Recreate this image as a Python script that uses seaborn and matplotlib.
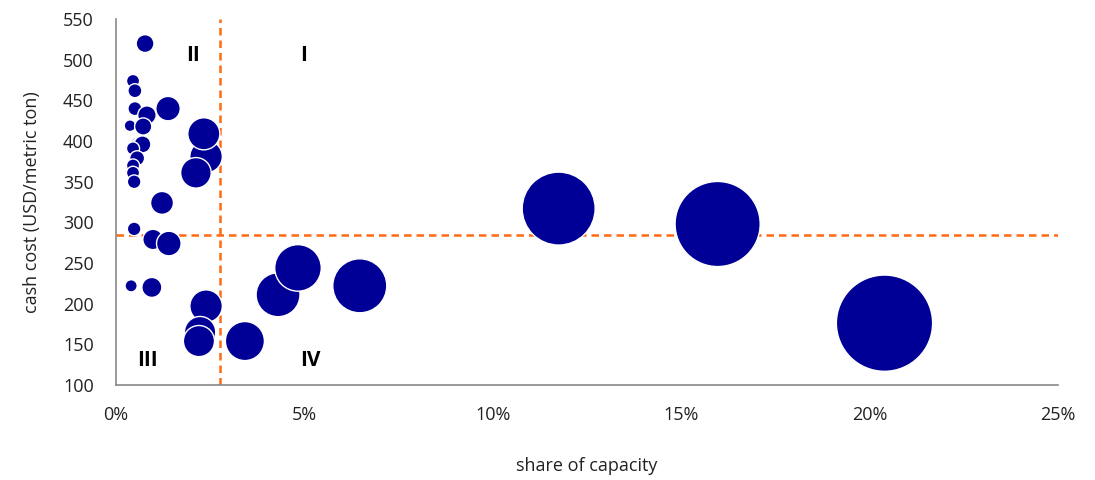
import matplotlib
matplotlib.use("Agg")
import matplotlib.pyplot as plt
import matplotlib.ticker as mticker
import seaborn as sns
import pandas as pd

# share of capacity (%), cash cost (USD/t), bubble size (capacity share)
share = [2.39, 0.77, 0.45, 0.50, 1.38, 0.50, 0.82, 0.37, 0.72, 2.33, 2.12,
         0.60, 0.64, 0.70, 0.45, 0.56, 0.45, 0.45, 0.48, 1.22, 0.48, 0.98,
         1.40, 0.95, 0.40, 2.39, 2.23, 2.20, 3.42, 4.30, 4.83, 6.47, 11.75,
         15.97, 20.40]
cost = [381, 520, 474, 462, 440, 440, 432, 419, 418, 409, 361,
        396, 395, 396, 391, 379, 370, 361, 350, 324, 292, 279,
        274, 220, 222, 197, 165, 154, 154, 211, 244, 222, 317,
        298, 176]
size = [2.39, 0.77, 0.45, 0.50, 1.38, 0.50, 0.82, 0.37, 0.72, 2.33, 2.12,
        0.60, 0.64, 0.70, 0.45, 0.56, 0.45, 0.45, 0.48, 1.22, 0.48, 0.98,
        1.40, 0.95, 0.40, 2.39, 2.23, 2.20, 3.42, 4.30, 4.83, 6.47, 11.75,
        15.97, 20.40]

avg_share = 2.76
avg_cost = 285

quadrants = ["I", "II", "III", "IV"]
quad_x = [4.99, 2.04, 0.82, 5.15]
quad_y = [505, 505, 130, 130]

df = pd.DataFrame({"share": [s / 100 for s in share], "cost": cost, "size": size})

BLUE = "#000096"
ORANGE = "#FF6A13"

sns.set_theme(style="white")
plt.rcParams["font.family"] = ["Open Sans", "DejaVu Sans"]

fig = plt.figure(figsize=(10.95, 4.8), dpi=100)
ax = fig.add_axes([0.106, 0.198, 0.860, 0.762])

sns.scatterplot(data=df, x="share", y="cost", size="size", sizes=(70, 4800),
                color=BLUE, edgecolor="white", linewidth=1.0, alpha=1,
                legend=False, ax=ax, zorder=3)

ax.axvline(avg_share / 100, color=ORANGE, ls=(0, (3, 2)), lw=1.8, zorder=2)
ax.axhline(avg_cost, color=ORANGE, ls=(0, (3, 2)), lw=1.8, zorder=2)

for q, qx, qy in zip(quadrants, quad_x, quad_y):
    ax.text(qx / 100, qy, q, ha="center", va="center", fontsize=15,
            fontweight="bold", color="black", zorder=4)

ax.set_xlim(0, 0.25)
ax.set_ylim(100, 550)
ax.xaxis.set_major_locator(mticker.MultipleLocator(0.05))
ax.xaxis.set_major_formatter(mticker.PercentFormatter(1.0, decimals=0))
ax.yaxis.set_major_locator(mticker.MultipleLocator(50))
ax.tick_params(axis="both", length=0, labelsize=13, colors="#222222")
ax.tick_params(axis="x", pad=15)
ax.tick_params(axis="y", pad=16)

ax.set_xlabel("share of capacity", fontsize=13, color="#222222", labelpad=24)
ax.set_ylabel("cash cost (USD/metric ton)", fontsize=13, color="#222222", labelpad=16)

sns.despine(ax=ax)
for side in ["left", "bottom"]:
    ax.spines[side].set_color("#888888")
    ax.spines[side].set_linewidth(1.2)

fig.savefig("out.png", dpi=100)
